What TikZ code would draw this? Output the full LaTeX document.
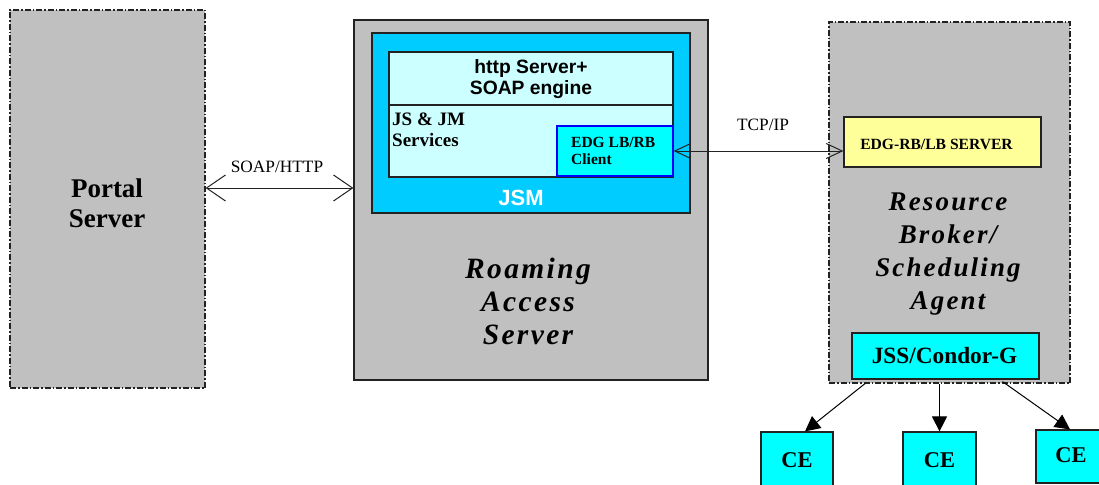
\documentclass[tikz,border=0pt]{standalone}
\usepackage{fontspec}
\setmainfont{Liberation Serif}
\newfontfamily\sansb{Liberation Sans}
\newfontfamily\spacedf{Liberation Serif}[LetterSpace=8]
\usetikzlibrary{arrows.meta}
\definecolor{gbox}{HTML}{C0C0C0}
\definecolor{jsmc}{HTML}{00CCFF}
\definecolor{lcyan}{HTML}{CCFFFF}
\definecolor{cyanc}{HTML}{00FFFF}
\definecolor{yel}{HTML}{FFFF99}
\definecolor{edge}{HTML}{222222}
\tikzset{
  box/.style={draw=edge, line width=1.2pt, rectangle, inner sep=0pt},
  dashdotbox/.style={box, fill=gbox, dash pattern=on 6pt off 2pt on 1.5pt off 2pt},
  solidbox/.style={box, fill=gbox},
  txt/.style={inner sep=0pt, align=center, text=black},
  dbl/.style={draw=edge, line width=1pt, {Straight Barb[length=19pt,width=26pt]}-{Straight Barb[length=19pt,width=26pt]}},
  dbls/.style={draw=edge, line width=1pt, {Straight Barb[length=16pt,width=15pt]}-{Straight Barb[length=16pt,width=15pt]}},
  cearr/.style={draw=black, line width=1pt, -{Triangle[length=15pt,width=15pt]}}
}
\begin{document}
\begin{tikzpicture}[x=1pt,y=-1pt]
\useasboundingbox (0,0) rectangle (1099,484);
% Portal server
\node[dashdotbox, minimum width=195, minimum height=378] (portal) at (107.5,199) {};
\node[txt, font=\bfseries\fontsize{27}{30}\selectfont] (portaltxt) at (107,203) {Portal\\Server};
% Roaming access server
\node[solidbox, minimum width=354, minimum height=360] (ras) at (531,200) {};
\node[box, fill=jsmc, minimum width=318, minimum height=180] (jsm) at (531,123) {};
\node[box, fill=lcyan, minimum width=284, minimum height=53] (http) at (531,78.5) {};
\node[txt, font=\sansb\bfseries\fontsize{19.3}{20.5}\selectfont] (httptxt) at (531,79) {http Server+\\SOAP engine};
\node[box, fill=lcyan, minimum width=284, minimum height=72] (jsjm) at (531,141) {};
\node[txt, align=left, anchor=north west, font=\bfseries\fontsize{19}{21}\selectfont] (jsjmtxt) at (392,113) {JS \& JM\\Services};
\node[box, draw=blue, fill=cyanc, minimum width=116, minimum height=50] (client) at (615,151) {};
\node[txt, align=left, anchor=west, font=\bfseries\fontsize{15.5}{17}\selectfont] (clienttxt) at (571,151) {EDG LB/RB\\Client};
\node[txt, text=white, font=\sansb\bfseries\fontsize{22}{26}\selectfont] (jsmtxt) at (521,198) {JSM};
\node[txt, font=\spacedf\bfseries\itshape\fontsize{29.5}{33}\selectfont] (rastxt) at (528,301) {Roaming\\Access\\Server};
% Resource broker
\node[dashdotbox, minimum width=241, minimum height=361] (rb) at (949.5,202.5) {};
\node[box, fill=yel, minimum width=197, minimum height=50] (server) at (942.5,142) {};
\node[txt, font=\bfseries\fontsize{15.6}{18}\selectfont] (servertxt) at (936.5,144) {EDG-RB/LB SERVER};
\node[txt, font=\spacedf\bfseries\itshape\fontsize{27}{32.7}\selectfont] (rbtxt) at (948,254) {Resource\\Broker/\\Scheduling\\Agent};
\node[box, fill=cyanc, minimum width=187, minimum height=46] (jss) at (945.5,356) {};
\node[txt, font=\bfseries\fontsize{23.3}{26}\selectfont] (jsstxt) at (944.5,356) {JSS/Condor-G};
% CEs
\node[box, fill=cyanc, minimum width=72, minimum height=68] (ce1) at (797,466) {};
\node[txt, font=\bfseries\fontsize{22.5}{26}\selectfont] (ce1txt) at (797,460) {CE};
\node[box, fill=cyanc, minimum width=73, minimum height=68] (ce2) at (939.5,466) {};
\node[txt, font=\bfseries\fontsize{22.5}{26}\selectfont] (ce2txt) at (939.5,460) {CE};
\node[box, fill=cyanc, minimum width=74, minimum height=53] (ce3) at (1073,456.5) {};
\node[txt, font=\bfseries\fontsize{22.5}{26}\selectfont] (ce3txt) at (1071,455) {CE};
% connectors
\draw[dbl] ([yshift=11pt]portal.east) -- ([yshift=11pt]portal.east -| ras.west);
\node[txt, font=\fontsize{17.3}{19}\selectfont] (soaplbl) at (277,167) {SOAP/HTTP};
\draw[dbls] (client.east) -- (client.east -| server.west);
\node[txt, font=\fontsize{17.3}{19}\selectfont] (tcplbl) at (763,125) {TCP/IP};
\draw[cearr] ([xshift=-80.5pt,yshift=-4pt]jss.south) -- ([xshift=8pt]ce1.north);
\draw[cearr] ([yshift=-4pt]ce2.north |- jss.south) -- (ce2.north);
\draw[cearr] ([xshift=57pt,yshift=-2pt]jss.south) -- ([xshift=-3pt]ce3.north);
\end{tikzpicture}
\end{document}
